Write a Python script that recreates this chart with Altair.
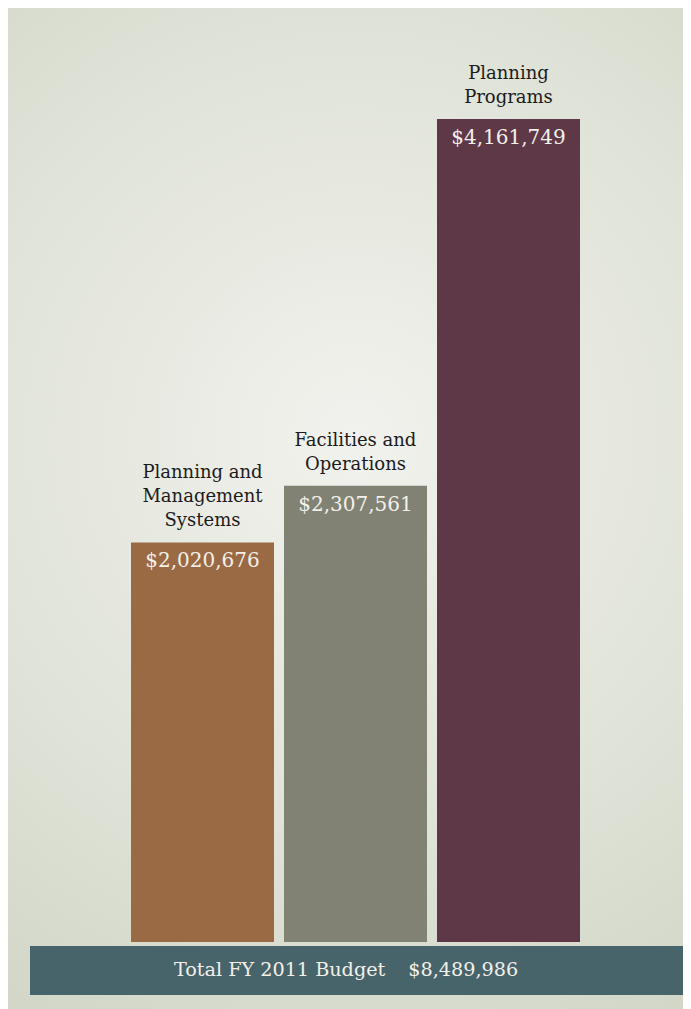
import altair as alt
import pandas as pd

# ---- data ----
categories = ["Planning and Management Systems", "Facilities and Operations", "Planning Programs"]
category_lines = [["Planning and", "Management", "Systems"], ["Facilities and", "Operations"], ["Planning", "Programs"]]
values = [2020676, 2307561, 4161749]
bar_colors = ["#9a6a45", "#818274", "#5e3846"]
total_label = "Total FY 2011 Budget"
total_value = 8489986

W, H = 675, 1001
FONT = "DejaVu Serif"

bars_df = pd.DataFrame({"category": categories, "value": values, "color": bar_colors})
# one row per label line, k = line index counted from the bottom line
rows = []
for cat, val, lines in zip(categories, values, category_lines):
    for k, line in enumerate(reversed(lines)):
        rows.append({"category": cat, "value": val, "k": k, "line": line})
lines_df = pd.DataFrame(rows)
total_df = pd.DataFrame({"label": [total_label], "total": [total_value]})

gradient = alt.RadialGradient(
    gradient="radial",
    x1=0.51, y1=0.43, r1=0.0,
    x2=0.51, y2=0.43, r2=0.72,
    stops=[
        alt.GradientStop(offset=0.0, color="#f1f2ed"),
        alt.GradientStop(offset=0.55, color="#e0e3d8"),
        alt.GradientStop(offset=1.0, color="#cfd4c4"),
    ],
)

bg = alt.Chart(total_df).mark_rect(fill=gradient).encode(
    x=alt.value(0), x2=alt.value(W), y=alt.value(0), y2=alt.value(H)
)

xs = alt.Scale(domain=categories, range=[118, 577], paddingInner=0.0654, paddingOuter=0.0327)
ys = alt.Scale(domain=[0, values[2]], range=[934, 111], nice=False, zero=True)

X = alt.X("category:N", scale=xs, axis=None, sort=categories)
Y = alt.Y("value:Q", scale=ys, axis=None)

base = alt.Chart(bars_df).encode(x=X, y=Y)

bars = base.mark_bar().encode(color=alt.Color("color:N", scale=None))

value_labels = base.mark_text(
    baseline="top", dy=9, font=FONT, fontSize=20, color="#f3f0ea"
).encode(text=alt.Text("value:Q", format="$,"))

line_layers = []
for k in range(3):
    line_layers.append(
        alt.Chart(lines_df).transform_filter(alt.datum.k == k).mark_text(
            baseline="bottom", dy=-12 - 24 * k, font=FONT, fontSize=18, color="#1b1b1b"
        ).encode(x=X, y=Y, text="line:N")
    )

total_bar = alt.Chart(total_df).mark_rect(color="#47646a").encode(
    x=alt.value(22), x2=alt.value(W), y=alt.value(938), y2=alt.value(987)
)

total_text = alt.Chart(total_df).transform_calculate(
    txt="datum.label + '\u2003\u2009' + format(datum.total, '$,')"
).mark_text(
    font=FONT, fontSize=19.2, color="#f3f0ea", baseline="middle", align="center"
).encode(x=alt.value(338), y=alt.value(962), text="txt:N")

chart = alt.layer(bg, bars, value_labels, *line_layers, total_bar, total_text).properties(
    width=W, height=H, padding=0, autosize=alt.AutoSizeParams(type="none")
).configure_view(stroke=None)

chart.save("out.html", embed_options={"renderer": "svg", "actions": False})
